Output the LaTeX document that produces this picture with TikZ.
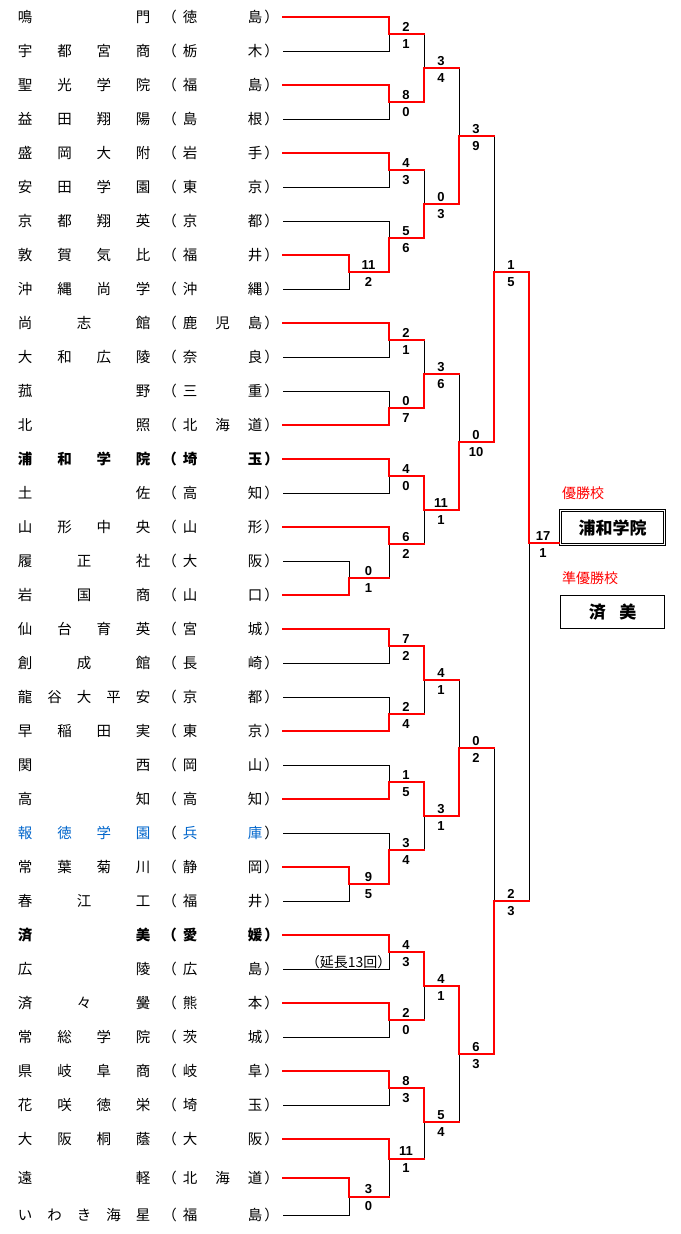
\documentclass[tikz,border=0pt]{standalone}
\usepackage{fontspec}
\setmainfont{Liberation Sans}
\newfontfamily\cjk{Noto Sans CJK JP}
\definecolor{hblue}{RGB}{0,102,204}
\tikzset{
  lose/.style={line width=1pt,black},
  win/.style={line width=2pt,red,line cap=rect},
  nm/.style={inner sep=0pt,font=\cjk\fontsize{14.5}{15}\selectfont},
  bd/.style={font=\cjk\bfseries\fontsize{14.5}{15}\selectfont},
  sc/.style={inner sep=0pt,font=\bfseries\fontsize{13}{13}\selectfont},
  bigt/.style={inner sep=0pt,font=\cjk\bfseries\fontsize{17}{17}\selectfont},
  lab/.style={inner sep=0pt,anchor=west,text=red,font=\cjk\fontsize{14}{14}\selectfont},
}
% team: id, y, name, prefecture, text style, paren style
\newcommand\tm[6]{%
  \coordinate (ts#1) at (283,#2);
  \node[nm,#5,anchor=west] (tn#1) at (17.75,#2) {\makebox[132.5pt]{#3}};
  \node[nm,#6] (tl#1) at (169.5,#2) {（};
  \node[nm,#5,anchor=west] (tp#1) at (182.75,#2) {\makebox[79.5pt]{#4}};
  \node[nm,#6] (tr#1) at (271.5,#2) {）};
}
% match: name, x, y, half gap, top score, bottom score
\newcommand\mt[6]{%
  \coordinate (#1) at (#2,#3);
  \node[sc] (#1t) at (#2+#4,#3-7) {#5};
  \node[sc] (#1b) at (#2+#4,#3+10) {#6};
}
\newcommand\tmw[2]{\draw[win] (ts#1) -| (#2);}
\newcommand\tml[2]{\draw[lose] (ts#1) -| (#2);}
\newcommand\mw[2]{\draw[win] (#1) -| (#2);}
\newcommand\mlb[2]{\draw[lose] (#1 -| #2) -- (#2);}
\newcommand\mlr[2]{\draw[win] (#1) -- (#1 -| #2);}
\begin{document}
\begin{tikzpicture}[x=1pt,y=-1pt]
\fill[white] (0,0) rectangle (680,1234);
\useasboundingbox (0,0) rectangle (680,1234);
% teams
\tm{1}{17}{鳴\hfill 門}{徳\hfill 島}{}{}
\tm{2}{51}{宇\hfill 都\hfill 宮\hfill 商}{栃\hfill 木}{}{}
\tm{3}{85}{聖\hfill 光\hfill 学\hfill 院}{福\hfill 島}{}{}
\tm{4}{119}{益\hfill 田\hfill 翔\hfill 陽}{島\hfill 根}{}{}
\tm{5}{153}{盛\hfill 岡\hfill 大\hfill 附}{岩\hfill 手}{}{}
\tm{6}{187}{安\hfill 田\hfill 学\hfill 園}{東\hfill 京}{}{}
\tm{7}{221}{京\hfill 都\hfill 翔\hfill 英}{京\hfill 都}{}{}
\tm{8}{255}{敦\hfill 賀\hfill 気\hfill 比}{福\hfill 井}{}{}
\tm{9}{289}{沖\hfill 縄\hfill 尚\hfill 学}{沖\hfill 縄}{}{}
\tm{10}{323}{尚\hfill 志\hfill 館}{鹿\hfill 児\hfill 島}{}{}
\tm{11}{357}{大\hfill 和\hfill 広\hfill 陵}{奈\hfill 良}{}{}
\tm{12}{391}{菰\hfill 野}{三\hfill 重}{}{}
\tm{13}{425}{北\hfill 照}{北\hfill 海\hfill 道}{}{}
\tm{14}{459}{浦\hfill 和\hfill 学\hfill 院}{埼\hfill 玉}{bd}{bd}
\tm{15}{493}{土\hfill 佐}{高\hfill 知}{}{}
\tm{16}{527}{山\hfill 形\hfill 中\hfill 央}{山\hfill 形}{}{}
\tm{17}{561}{履\hfill 正\hfill 社}{大\hfill 阪}{}{}
\tm{18}{595}{岩\hfill 国\hfill 商}{山\hfill 口}{}{}
\tm{19}{629}{仙\hfill 台\hfill 育\hfill 英}{宮\hfill 城}{}{}
\tm{20}{663}{創\hfill 成\hfill 館}{長\hfill 崎}{}{}
\tm{21}{697}{龍\hfill 谷\hfill 大\hfill 平\hfill 安}{京\hfill 都}{}{}
\tm{22}{731}{早\hfill 稲\hfill 田\hfill 実}{東\hfill 京}{}{}
\tm{23}{765}{関\hfill 西}{岡\hfill 山}{}{}
\tm{24}{799}{高\hfill 知}{高\hfill 知}{}{}
\tm{25}{833}{報\hfill 徳\hfill 学\hfill 園}{兵\hfill 庫}{text=hblue}{}
\tm{26}{867}{常\hfill 葉\hfill 菊\hfill 川}{静\hfill 岡}{}{}
\tm{27}{901}{春\hfill 江\hfill 工}{福\hfill 井}{}{}
\tm{28}{935}{済\hfill 美}{愛\hfill 媛}{bd}{bd}
\tm{29}{969}{広\hfill 陵}{広\hfill 島}{}{}
\tm{30}{1003}{済\hfill 々\hfill 黌}{熊\hfill 本}{}{}
\tm{31}{1037}{常\hfill 総\hfill 学\hfill 院}{茨\hfill 城}{}{}
\tm{32}{1071}{県\hfill 岐\hfill 阜\hfill 商}{岐\hfill 阜}{}{}
\tm{33}{1105}{花\hfill 咲\hfill 徳\hfill 栄}{埼\hfill 玉}{}{}
\tm{34}{1139}{大\hfill 阪\hfill 桐\hfill 蔭}{大\hfill 阪}{}{}
\tm{35}{1178}{遠\hfill 軽}{北\hfill 海\hfill 道}{}{}
\tm{36}{1215}{い\hfill わ\hfill き\hfill 海\hfill 星}{福\hfill 島}{}{}
% matches
\mt{z1}{349}{272}{19.5}{11}{2}
\mt{z2}{349}{578}{19.5}{0}{1}
\mt{z3}{349}{884}{19.5}{9}{5}
\mt{z4}{349}{1196.5}{19.5}{3}{0}
\mt{a1}{389}{34}{17}{2}{1}
\mt{a2}{389}{102}{17}{8}{0}
\mt{a3}{389}{170}{17}{4}{3}
\mt{a4}{389}{238}{17}{5}{6}
\mt{a5}{389}{340}{17}{2}{1}
\mt{a6}{389}{408}{17}{0}{7}
\mt{a7}{389}{476}{17}{4}{0}
\mt{a8}{389}{544}{17}{6}{2}
\mt{a9}{389}{646}{17}{7}{2}
\mt{a10}{389}{714}{17}{2}{4}
\mt{a11}{389}{782}{17}{1}{5}
\mt{a12}{389}{850}{17}{3}{4}
\mt{a13}{389}{952}{17}{4}{3}
\mt{a14}{389}{1020}{17}{2}{0}
\mt{a15}{389}{1088}{17}{8}{3}
\mt{a16}{389}{1158.5}{17}{11}{1}
\mt{b1}{424}{68}{17}{3}{4}
\mt{b2}{424}{204}{17}{0}{3}
\mt{b3}{424}{374}{17}{3}{6}
\mt{b4}{424}{510}{17}{11}{1}
\mt{b5}{424}{680}{17}{4}{1}
\mt{b6}{424}{816}{17}{3}{1}
\mt{b7}{424}{986}{17}{4}{1}
\mt{b8}{424}{1122}{17}{5}{4}
\mt{c1}{459}{136}{17}{3}{9}
\mt{c2}{459}{442}{17}{0}{10}
\mt{c3}{459}{748}{17}{0}{2}
\mt{c4}{459}{1054}{17}{6}{3}
\mt{d1}{494}{272}{17}{1}{5}
\mt{d2}{494}{901}{17}{2}{3}
\mt{f}{529}{543}{14}{17}{1}
% result boxes and labels
\node[lab] (wlab) at (562,493) {優勝校};
\node[lab] (rlab) at (562,578) {準優勝校};
\node[bigt,draw,line width=0.8pt,double,double distance=1.2pt,minimum width=104pt,minimum height=34pt] (champ) at (612.7,527.7) {浦和学院};
\node[bigt,draw,line width=1pt,minimum width=104.3pt,minimum height=33.3pt] (runner) at (612.6,612.2) {済\hspace{13.5pt}美};
\node[inner sep=0pt,anchor=east,font=\cjk\fontsize{14}{14}\selectfont] (ext) at (391.5,962) {（延長13回）};
% losing lines (black)
\tml{2}{a1}\tml{4}{a2}\tml{6}{a3}\tml{7}{a4}\tml{9}{z1}\tml{11}{a5}
\tml{12}{a6}\tml{15}{a7}\tml{17}{z2}\tml{20}{a9}\tml{21}{a10}\tml{23}{a11}
\tml{25}{a12}\tml{27}{z3}\tml{29}{a13}\tml{31}{a14}\tml{33}{a15}\tml{36}{z4}
\mlb{z2}{a8}\mlb{z4}{a16}\mlb{a1}{b1}\mlb{a3}{b2}\mlb{a5}{b3}\mlb{a8}{b4}
\mlb{a10}{b5}\mlb{a12}{b6}\mlb{a14}{b7}\mlb{a16}{b8}\mlb{b1}{c1}\mlb{b3}{c2}
\mlb{b5}{c3}\mlb{b8}{c4}\mlb{c1}{d1}\mlb{c3}{d2}\mlb{d2}{f}
% winning lines (red)
\mlr{z2}{a8}\mlr{z4}{a16}\mlr{a1}{b1}\mlr{a3}{b2}\mlr{a5}{b3}\mlr{a8}{b4}
\mlr{a10}{b5}\mlr{a12}{b6}\mlr{a14}{b7}\mlr{a16}{b8}\mlr{b1}{c1}\mlr{b3}{c2}
\mlr{b5}{c3}\mlr{b8}{c4}\mlr{c1}{d1}\mlr{c3}{d2}\mlr{d2}{f}
\tmw{1}{a1}\tmw{3}{a2}\tmw{5}{a3}\tmw{8}{z1}\tmw{10}{a5}\tmw{13}{a6}
\tmw{14}{a7}\tmw{16}{a8}\tmw{18}{z2}\tmw{19}{a9}\tmw{22}{a10}\tmw{24}{a11}
\tmw{26}{z3}\tmw{28}{a13}\tmw{30}{a14}\tmw{32}{a15}\tmw{34}{a16}\tmw{35}{z4}
\mw{z1}{a4}\mw{z3}{a12}\mw{a2}{b1}\mw{a4}{b2}\mw{a6}{b3}\mw{a7}{b4}
\mw{a9}{b5}\mw{a11}{b6}\mw{a13}{b7}\mw{a15}{b8}\mw{b2}{c1}\mw{b4}{c2}
\mw{b6}{c3}\mw{b7}{c4}\mw{c2}{d1}\mw{c4}{d2}\mw{d1}{f}
\draw[win,line cap=butt] (f) -- (f -| champ.west);
\end{tikzpicture}
\end{document}
